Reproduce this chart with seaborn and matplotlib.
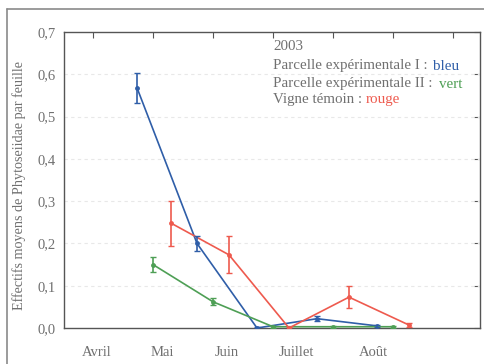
import matplotlib
matplotlib.use("Agg")
import matplotlib.pyplot as plt
from matplotlib.lines import Line2D
import numpy as np
import pandas as pd
import seaborn as sns

# Sampling dates (days from the first tick) and mean counts per leaf
days_bleu = [11, 26, 41, 56, 71]
moy_bleu = [0.568, 0.200, 0.0, 0.022, 0.005]
err_bleu = [0.036, 0.018, 0.003, 0.006, 0.003]

days_vert = [15, 30, 45, 60, 75]
moy_vert = [0.150, 0.062, 0.003, 0.003, 0.003]
err_vert = [0.017, 0.008, 0.002, 0.002, 0.002]

days_rouge = [19.5, 34, 49, 64, 79]
moy_rouge = [0.248, 0.173, 0.0, 0.073, 0.007]
err_rouge = [0.053, 0.044, 0.003, 0.026, 0.005]

mois = ["Avril", "Mai", "Juin", "Juillet", "Août"]
mois_pos = [1, 17.25, 33.5, 50.75, 70]

series = ["Parcelle expérimentale I", "Parcelle expérimentale II", "Vigne témoin"]
couleurs = {"Parcelle expérimentale I": "#2f5ea8",
            "Parcelle expérimentale II": "#4e9f55",
            "Vigne témoin": "#ee5a4e"}

df = pd.DataFrame({
    "jour": days_bleu + days_vert + days_rouge,
    "effectif": moy_bleu + moy_vert + moy_rouge,
    "erreur": err_bleu + err_vert + err_rouge,
    "serie": [series[0]] * 5 + [series[1]] * 5 + [series[2]] * 5,
})

sns.set_style("white")
plt.rcParams["font.family"] = ["Liberation Serif", "DejaVu Serif"]
gris = "#707070"

fig = plt.figure(figsize=(4.84, 3.64), dpi=100)
ax = fig.add_axes([64 / 484, 1 - 328 / 364, 416 / 484, 296 / 364])

sns.lineplot(data=df, x="jour", y="effectif", hue="serie", palette=couleurs,
             marker="o", markersize=3.5, markeredgewidth=0, linewidth=1.2,
             legend=False, ax=ax, zorder=3)
for s, g in df.groupby("serie"):
    ax.errorbar(g["jour"], g["effectif"], yerr=g["erreur"], fmt="none",
                ecolor=couleurs[s], elinewidth=1.2, capsize=2.2, capthick=1.0,
                zorder=3)

ax.set_xlim(-7.25, 96.75)
ax.set_ylim(0, 0.7)
ax.set_xticks(np.arange(0, 91, 15))
ax.set_xticklabels([])
ax.set_xticks(mois_pos, minor=True)
ax.set_xticklabels(mois, minor=True)
ax.set_yticks(np.arange(0, 0.71, 0.1))
ax.set_yticklabels([f"{v:.1f}".replace(".", ",") for v in np.arange(0, 0.71, 0.1)])

ax.tick_params(axis="both", which="major", direction="in", length=4,
               color="#555555", labelsize=10.5, labelcolor=gris,
               top=True, right=True, pad=6)
ax.tick_params(axis="x", which="minor", length=0, pad=13,
               labelsize=10.5, labelcolor=gris)

for y in np.arange(0.1, 0.65, 0.1):
    ax.axhline(y, color="#e8e8e8", lw=0.8, ls=(0, (3, 3)), zorder=1)

for sp in ax.spines.values():
    sp.set_color("#555555")
    sp.set_linewidth(1.0)

ax.set_xlabel("")
ax.set_ylabel("Effectifs moyens de Phytoseiidae par feuille", fontsize=10.2,
              color=gris)
ax.yaxis.set_label_coords(-0.092, 0.48)

# Title block in the upper right of the plot
def px(x, y):
    return x / 484, 1 - y / 364

fs = 10.8
fig.text(*px(273, 47), "2003", fontsize=fs, color=gris, va="center")
fig.text(*px(273, 66), "Parcelle expérimentale I :", fontsize=fs, color=gris, va="center")
fig.text(*px(433, 66), "bleu", fontsize=fs, color=couleurs[series[0]], va="center")
fig.text(*px(273, 84), "Parcelle expérimentale II :", fontsize=fs, color=gris, va="center")
fig.text(*px(439, 84), "vert", fontsize=fs, color=couleurs[series[1]], va="center")
fig.text(*px(273, 100), "Vigne témoin :", fontsize=fs, color=gris, va="center")
fig.text(*px(366, 100), "rouge", fontsize=fs, color=couleurs[series[2]], va="center")

# Outer frame around the figure
fig.add_artist(Line2D([7 / 484, 7 / 484], [0, 1 - 9 / 364], transform=fig.transFigure,
                      color="#8a8a8a", lw=1.2))
fig.add_artist(Line2D([7 / 484, 1], [1 - 9 / 364, 1 - 9 / 364], transform=fig.transFigure,
                      color="#8a8a8a", lw=1.2))

fig.savefig("out.png", dpi=100)
